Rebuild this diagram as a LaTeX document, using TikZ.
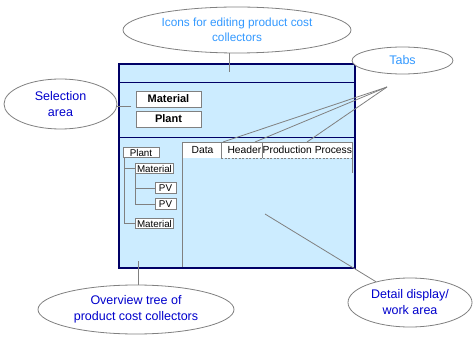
\documentclass[tikz,border=0pt]{standalone}
\usepackage{fontspec}
\setmainfont{Liberation Sans}
\usetikzlibrary{shapes.geometric}
\definecolor{winfill}{RGB}{204,236,255}
\definecolor{winedge}{RGB}{0,0,102}
\definecolor{callgray}{RGB}{128,128,128}
\definecolor{lightlabel}{RGB}{51,153,255}
\definecolor{darklabel}{RGB}{0,0,204}

\begin{document}
\begin{tikzpicture}[x=1pt,y=-1pt,
  callout/.style={ellipse, draw=callgray, fill=white, line width=0.8pt, inner sep=0pt, align=center,
    text=darklabel, font=\fontsize{12.5}{16}\selectfont},
  pointer/.style={draw=callgray, line width=0.8pt},
  paneline/.style={draw=callgray, line width=0.8pt},
  winline/.style={draw=winedge, line width=1pt},
  selbox/.style={draw=callgray, fill=white, line width=0.8pt, minimum width=65pt, minimum height=16pt,
    inner sep=0pt, font=\fontsize{11}{13}\selectfont\bfseries},
  treebox/.style={draw=callgray, fill=white, line width=0.8pt, minimum height=10.5pt, inner sep=0.8pt,
    font=\fontsize{9.8}{10}\selectfont},
  tabtext/.style={inner sep=1pt, font=\fontsize{10.3}{11}\selectfont}]
  \useasboundingbox (0,0) rectangle (473,355);

  % window
  \fill[winfill] (119,64) rectangle (355,268);
  \draw[winline] (119,83) -- (355,83);
  \draw[winline] (119,138) -- (355,138);

  % selection area
  \node[selbox] (selmat) at (168.5,99) {Material};
  \node[selbox] (selplant) at (168.5,119) {Plant};

  % tabs and detail pane
  \fill[white] (182,142) rectangle (352,158);
  \draw[paneline] (182,268) -- (182,142) -- (352,142) -- (352,173);
  \draw[paneline] (221,142) -- (221,158);
  \draw[paneline] (262,142) -- (262,158);
  \draw[paneline, dashed, dash pattern=on 2pt off 1.5pt] (221,158) -- (352,158);
  \begin{scope}
    \clip (119,64) rectangle (355,268);
    \node[tabtext] (tabdata) at (202.5,150) {Data};
    \node[tabtext, anchor=east] (tabhead) at (262.5,150) {Header};
    \node[tabtext, anchor=west] (tabproc) at (261.5,150) {Production Process};
  \end{scope}

  % overview tree
  \node[treebox, minimum width=36pt] (plant) at (141,152.5) {Plant};
  \node[treebox, minimum width=38pt] (mat1) at (154.5,168.5) {Material};
  \node[treebox, minimum width=21pt] (pv1) at (165.5,188) {PV};
  \node[treebox, minimum width=21pt] (pv2) at (165.5,204) {PV};
  \node[treebox, minimum width=38pt] (mat2) at (154.5,223.5) {Material};
  \draw[paneline] (plant.south west) ++(1.5,0) coordinate (trunk) |- (mat2.west);
  \draw[paneline] (trunk |- mat1.west) -- (mat1.west);
  \draw[paneline] (mat1.south west) ++(0.5,0) coordinate (branch) |- (pv2.west);
  \draw[paneline] (branch |- pv1.west) -- (pv1.west);

  \draw[winedge, line width=1.2pt] (119,64) rectangle (355,268);

  % callouts
  \node[callout, minimum width=228pt, minimum height=46pt, text=lightlabel,
    font=\fontsize{11.8}{15}\selectfont] (iconell) at (237,30)
    {Icons for editing product cost\\collectors};
  \node[callout, minimum width=113pt, minimum height=50pt] (selell) at (60.5,104) {Selection\\area};
  \node[callout, minimum width=101pt, minimum height=27pt, text=lightlabel] (tabell) at (402.5,60.5) {Tabs};
  \node[callout, minimum width=196pt, minimum height=49pt] (treeell) at (136,309.5)
    {Overview tree of\\product cost collectors};
  \node[callout, minimum width=124pt, minimum height=49pt] (detell) at (410,302.5)
    {Detail display/\\work area};

  % pointers
  \coordinate (iconpt) at (229,72);
  \coordinate (selpt) at (131,106.5);
  \coordinate (tabhub) at (387,87);
  \coordinate (treept) at (138,261);
  \coordinate (detpt) at (265,214);
  \draw[pointer] (iconpt) -- (iconpt |- iconell.south);
  \draw[pointer] (selpt) -- (selell.east |- selpt);
  \draw[pointer] (tabhub) -- (223,142);
  \draw[pointer] (tabhub) -- (255,142);
  \draw[pointer] (tabhub) -- (307,142);
  \draw[pointer] (treept) -- (treept |- treeell.north);
  \draw[pointer] (detpt) -- (detell);
\end{tikzpicture}
\end{document}
